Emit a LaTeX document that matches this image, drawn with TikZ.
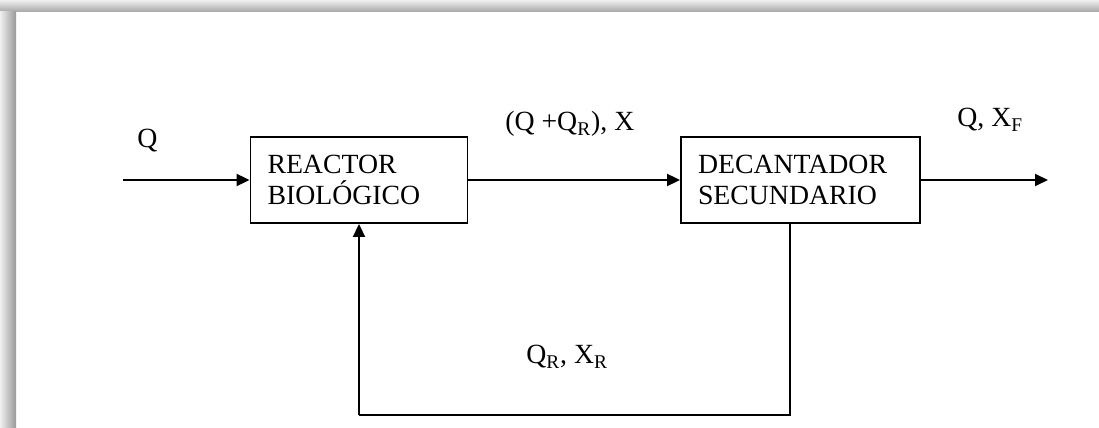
\documentclass[tikz,border=0pt]{standalone}
\usepackage{fontspec}
\setmainfont{Liberation Serif}
\usetikzlibrary{arrows.meta}
\tikzset{
    unitbox/.style={draw,line width=1.1pt,align=left,inner xsep=0.34cm,inner ysep=0pt,
        minimum height=1.72cm,font=\fontsize{15.8}{17.6}\selectfont},
    flow/.style={line width=1.1pt,-{Triangle[length=0.26cm,width=0.24cm]}},
    pipe/.style={line width=1.1pt},
    tag/.style={anchor=base west,inner sep=0pt,font=\fontsize{15.8}{17.6}\selectfont}
}
\begin{document}
\begin{tikzpicture}[x=0.02cm,y=-0.02cm]
    \useasboundingbox (0,0) rectangle (1099,428);
    % page shadow
    \fill[white] (16,12) rectangle (1099,428);
    \shade[top color=gray!12,bottom color=gray!70] (0,0) rectangle (1099,12);
    \shade[left color=gray!12,right color=gray!80] (0,12) rectangle (16,428);
    % units
    \node[unitbox,text width=3.66cm] (reactor) at (359,180) {REACTOR\\BIOLÓGICO};
    \node[unitbox,text width=4.1cm] (decant) at (800.5,180) {DECANTADOR\\SECUNDARIO};
    % free ends
    \coordinate (feed) at (123,180);
    \coordinate (efl) at (1048,180);
    \coordinate (retR) at (790,415);
    \coordinate (retL) at (reactor.south |- retR);
    % streams
    \draw[flow] (feed) -- (reactor.west);
    \draw[flow] (reactor.east) -- (decant.west);
    \draw[flow] (decant.east) -- (efl);
    \draw[pipe] (decant.south -| retR) -- (retR) -- (retL);
    \draw[flow] (retL) -- (reactor.south);
    % labels
    \node[tag] (lq) at (137,148) {Q};
    \node[tag] (lmix) at (505,131) {(Q +Q\textsubscript{R}), X};
    \node[tag] (lout) at (957,127) {Q, X\textsubscript{F}};
    \node[tag] (lret) at (526,364) {Q\textsubscript{R}, X\textsubscript{R}};
\end{tikzpicture}
\end{document}
